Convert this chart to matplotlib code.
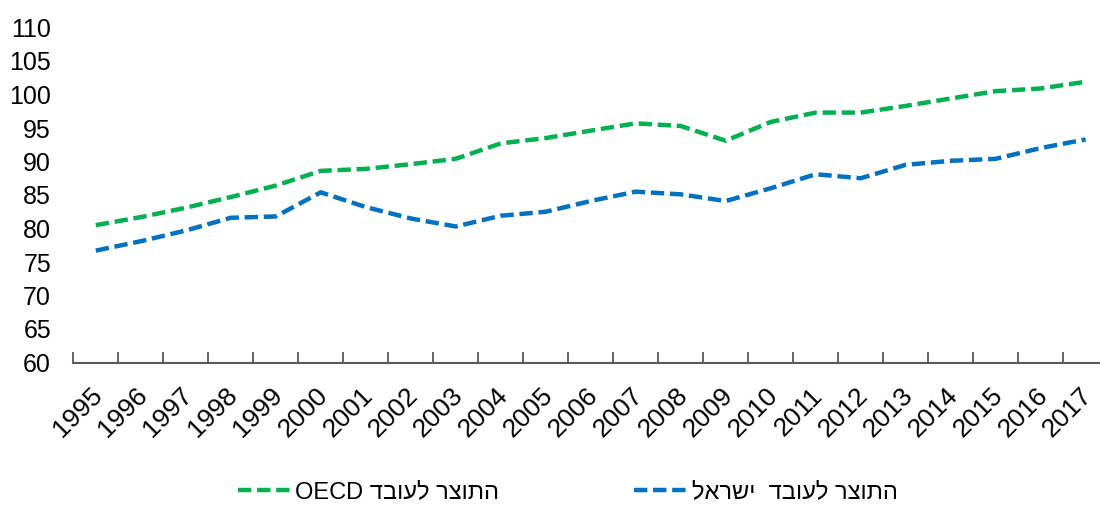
import numpy as np
import matplotlib
matplotlib.use("Agg")
import matplotlib.pyplot as plt
from matplotlib.ticker import FixedLocator

plt.rcParams['font.family'] = ['Liberation Sans', 'DejaVu Sans']

years = list(range(1995, 2018))
oecd = [80.5, 81.7, 83.1, 84.7, 86.4, 88.6, 88.9, 89.6, 90.4, 92.7, 93.5, 94.6,
        95.7, 95.3, 93.1, 95.9, 97.3, 97.3, 98.3, 99.4, 100.5, 100.9, 101.9]
israel = [76.7, 78.1, 79.7, 81.6, 81.8, 85.4, 83.2, 81.5, 80.3, 81.9, 82.5, 84.1,
          85.5, 85.1, 84.1, 86.0, 88.1, 87.5, 89.5, 90.1, 90.4, 92.0, 93.3]
labels = ["התוצר לעובד OECD", "התוצר לעובד  ישראל"]
colors = ["#00B050", "#0070C0"]


def visual(s):
    # matplotlib has no bidi support: lay RTL words out left-to-right by hand
    words = s.split(" ")[::-1]
    out = []
    for w in words:
        if any('\u0590' <= c <= '\u05ff' for c in w):
            w = w[::-1]
        out.append(w)
    return " ".join(out)


fig = plt.figure(figsize=(11, 5.05), dpi=100)
ax = fig.add_axes([73.3 / 1100, 1 - 362.5 / 505, 1 - 73.3 / 1100, 335 / 505])

x = np.arange(len(years))
for ys, lab, col in zip([oecd, israel], labels, colors):
    ax.plot(x, ys, color=col, lw=3.2, dashes=(3.0, 1.3), label=visual(lab))

ax.set_xlim(-0.5, 22.32)
ax.set_ylim(60, 110)
ax.set_yticks(range(60, 111, 5))

# year labels sit on invisible major ticks, set slightly left of each point
ax.set_xticks(x - 0.12)
ax.set_xticklabels([str(y) for y in years], rotation=45, ha='right', va='top',
                   rotation_mode='anchor', fontsize=19)
ax.xaxis.set_minor_locator(FixedLocator(np.arange(-0.5, 23, 1)))
ax.tick_params(axis='x', which='major', length=0, pad=15)
ax.tick_params(axis='x', which='minor', length=8, width=1.3, direction='in',
               color='#595959')
ax.tick_params(axis='y', length=0, pad=16, labelsize=18)

for s in ['top', 'right', 'left']:
    ax.spines[s].set_visible(False)
ax.spines['bottom'].set_color('#595959')
ax.spines['bottom'].set_linewidth(1.5)

fig.legend(loc='center', bbox_to_anchor=(0.516, 0.026), ncol=2, frameon=False,
           fontsize=17, handlelength=2.25, handletextpad=0.2, columnspacing=5.7)

fig.savefig("out.png", dpi=100)
